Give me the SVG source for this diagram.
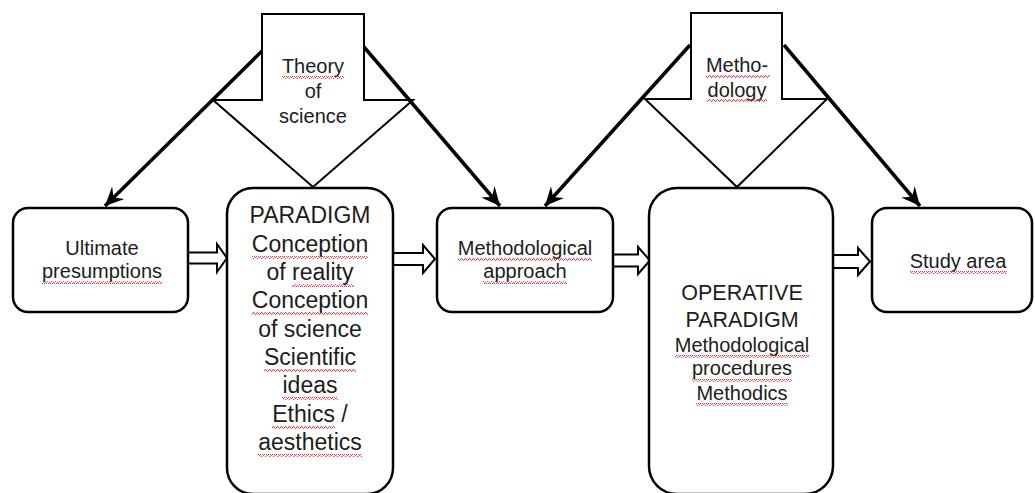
<svg xmlns="http://www.w3.org/2000/svg" width="1035" height="493" viewBox="0 0 1035 493">
  <defs>
    <style>
      .box { fill: #ffffff; stroke: #000000; stroke-width: 2.5; }
      .block { fill: #ffffff; stroke: #000000; stroke-width: 2; stroke-linejoin: miter; }
      .hollow { fill: #ffffff; stroke: #000000; stroke-width: 2; stroke-linejoin: miter; }
      .link { fill: none; stroke: #000000; stroke-width: 3.5; marker-end: url(#stealth); }
      text { font-family: "Liberation Sans", Arial, sans-serif; fill: #1c1c1c; text-anchor: middle; }
      .sm { font-size: 20px; }
      .lg { font-size: 23px; }
      .md { font-size: 21.5px; }
      .wavy { fill: url(#wave); }
    </style>
    <marker id="stealth" markerUnits="userSpaceOnUse" markerWidth="22" markerHeight="20" viewBox="-18 -9 20 18" refX="0" refY="0" orient="auto">
      <path d="M0,0 L-17,-8 L-11,0 L-17,8 Z" fill="#000000"/>
    </marker>
    <pattern id="wave" width="4" height="3" patternUnits="userSpaceOnUse">
      <path d="M0,2.4 L1,0.6 L2,0.6 L3,2.4 L4,2.4" fill="none" stroke="#e03030" stroke-width="0.9"/>
    </pattern>
  </defs>

  <!-- block arrow: Theory of science -->
  <g id="theory-of-science">
    <polygon class="block" points="262,14 364,14 364,100 413,100 313,187 213,100 262,100"/>
    <text class="sm" x="313" y="73">Theory</text>
    <text class="sm" x="313" y="98">of</text>
    <text class="sm" x="313" y="123">science</text>
    <rect class="wavy" x="282" y="76" width="62" height="3"/>
  </g>

  <!-- block arrow: Methodology -->
  <g id="methodology">
    <polygon class="block" points="691,13 782,13 782,99 827,99 737,187 645,99 691,99"/>
    <text class="sm" x="737" y="72">Metho-</text>
    <text class="sm" x="737" y="97">dology</text>
    <rect class="wavy" x="706" y="75" width="64" height="3"/>
    <rect class="wavy" x="707" y="99" width="60" height="3"/>
  </g>

  <!-- connectors -->
  <g id="connectors">
    <line class="link" x1="262" y1="51" x2="105" y2="206"/>
    <line class="link" x1="364" y1="47" x2="500" y2="206"/>
    <line class="link" x1="690" y1="45" x2="545" y2="206"/>
    <line class="link" x1="784" y1="45" x2="920" y2="206"/>
    <polygon class="hollow" points="188,252.5 217,252.5 217,244 227,258 217,272 217,263.5 188,263.5"/>
    <polygon class="hollow" points="393,253 423,253 423,245 435,259 423,273 423,265 393,265"/>
    <polygon class="hollow" points="613,254.5 638,254.5 638,247 650,260.5 638,274 638,266.5 613,266.5"/>
    <polygon class="hollow" points="833,255 858,255 858,248 870,261.5 858,275 858,268 833,268"/>
  </g>

  <!-- node: Ultimate presumptions -->
  <g id="ultimate-presumptions">
    <rect class="box" x="13" y="208" width="175" height="104" rx="15"/>
    <text class="sm" x="102" y="255">Ultimate</text>
    <text class="sm" x="102" y="278">presumptions</text>
    <rect class="wavy" x="42" y="281" width="120" height="3"/>
  </g>

  <!-- node: PARADIGM -->
  <g id="paradigm">
    <rect class="box" x="227" y="188" width="166" height="306" rx="26"/>
    <text class="lg" x="310" y="223">PARADIGM</text>
    <text class="lg" x="310" y="252">Conception</text>
    <text class="lg" x="310" y="280">of reality</text>
    <text class="lg" x="310" y="308">Conception</text>
    <text class="lg" x="310" y="337">of science</text>
    <text class="lg" x="310" y="365">Scientific</text>
    <text class="lg" x="310" y="393">ideas</text>
    <text class="lg" x="310" y="422">Ethics /</text>
    <text class="lg" x="310" y="450">aesthetics</text>
    <rect class="wavy" x="252" y="256" width="116" height="3"/>
    <rect class="wavy" x="292" y="284" width="62" height="3"/>
    <rect class="wavy" x="252" y="312" width="116" height="3"/>
    <rect class="wavy" x="264" y="369" width="92" height="3"/>
    <rect class="wavy" x="282" y="397" width="56" height="3"/>
    <rect class="wavy" x="272" y="426" width="63" height="3"/>
    <rect class="wavy" x="258" y="454" width="104" height="3"/>
  </g>

  <!-- node: Methodological approach -->
  <g id="methodological-approach">
    <rect class="box" x="437" y="208" width="176" height="104" rx="15"/>
    <text class="sm" x="525" y="255">Methodological</text>
    <text class="sm" x="525" y="278">approach</text>
    <rect class="wavy" x="458" y="258" width="134" height="3"/>
    <rect class="wavy" x="483" y="281" width="84" height="3"/>
  </g>

  <!-- node: OPERATIVE PARADIGM -->
  <g id="operative-paradigm">
    <rect class="box" x="649" y="188" width="184" height="306" rx="28"/>
    <text class="md" x="742" y="300">OPERATIVE</text>
    <text class="md" x="742" y="327">PARADIGM</text>
    <text class="sm" x="742" y="352">Methodological</text>
    <text class="sm" x="742" y="375">procedures</text>
    <text class="sm" x="742" y="400">Methodics</text>
    <rect class="wavy" x="675" y="355" width="134" height="3"/>
    <rect class="wavy" x="692" y="379" width="100" height="3"/>
    <rect class="wavy" x="696" y="403" width="92" height="3"/>
  </g>

  <!-- node: Study area -->
  <g id="study-area">
    <rect class="box" x="872" y="208" width="160" height="104" rx="15"/>
    <text class="sm" x="958" y="268">Study area</text>
    <rect class="wavy" x="910" y="271" width="97" height="3"/>
  </g>
</svg>
